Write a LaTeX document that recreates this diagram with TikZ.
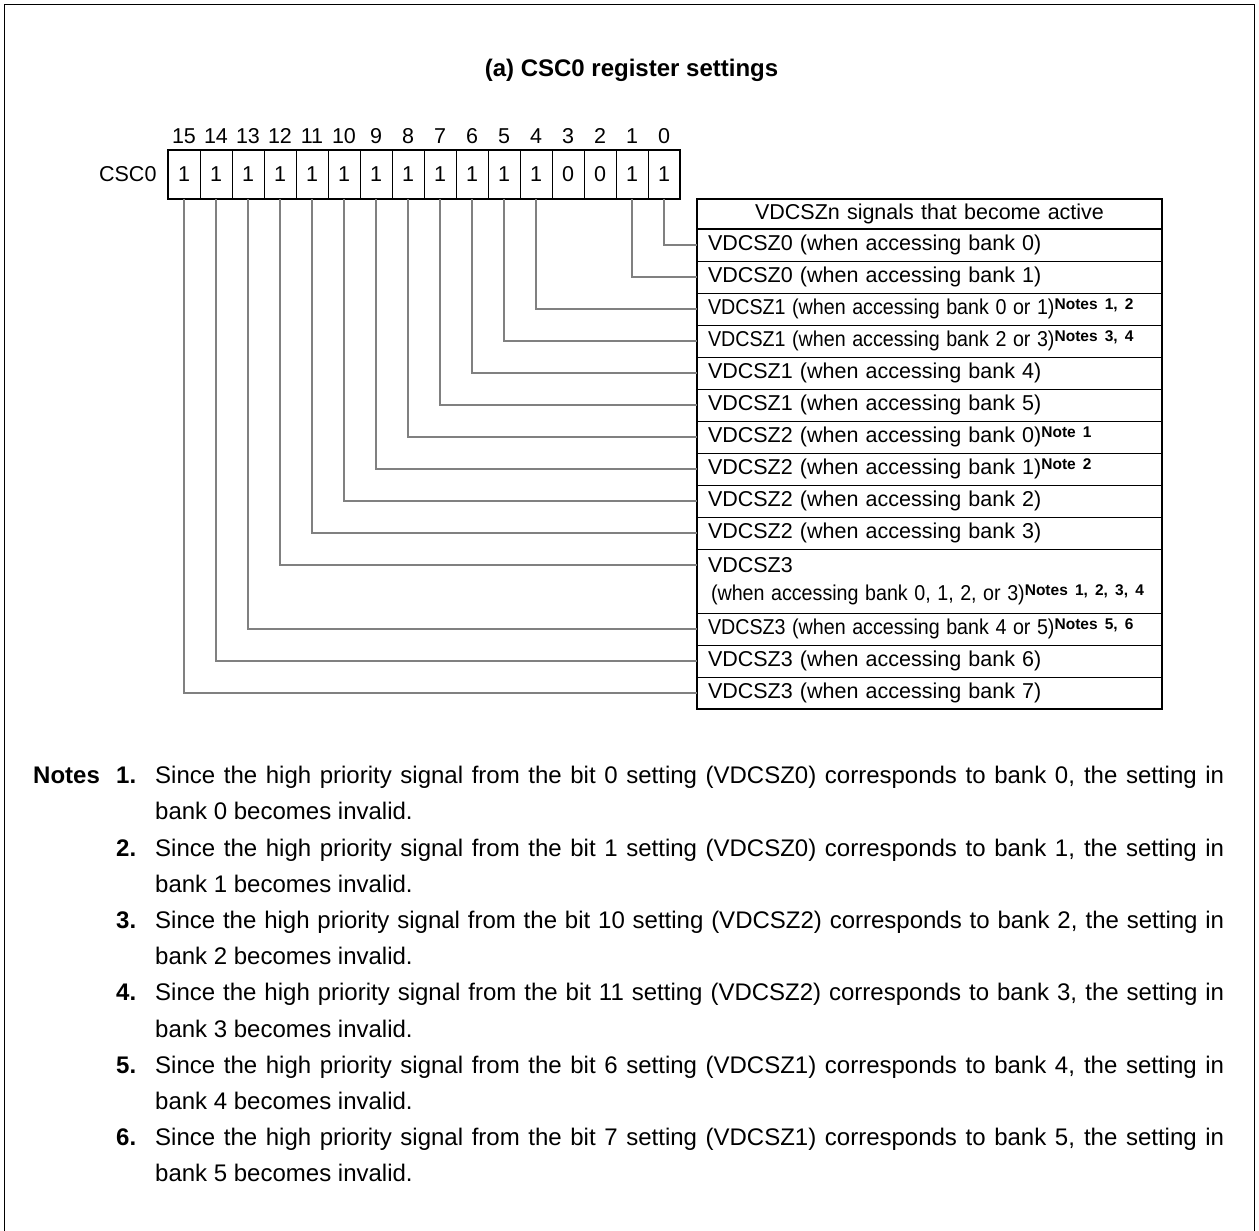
\documentclass[tikz,border=0pt]{standalone}
\usepackage{fontspec}
\usepackage{graphicx}
\setmainfont{Liberation Sans}
\usetikzlibrary{positioning,calc}
\newcommand{\notemark}[1]{\raisebox{5pt}{\fontsize{15.5}{15.5}\selectfont\bfseries #1}}
\newcommand{\squeeze}[1]{\scalebox{0.915}[1]{#1}}

\begin{document}
\begin{tikzpicture}[x=1pt,y=-1pt,font=\fontsize{21.5}{28}\selectfont,
  bit/.style={draw,line width=1pt,minimum width=32pt,minimum height=49pt,inner sep=0pt,outer sep=0pt},
  bitno/.style={inner sep=0pt},
  cell/.style={draw,line width=1pt,text width=443pt,inner xsep=11pt,inner ysep=0pt,outer sep=0pt,minimum height=32pt,align=left},
  row/.style={cell,text height=15.5pt,text depth=5pt},
  wire/.style={line width=1.5pt,black!50},
  note/.style={inner sep=0pt,anchor=base west,text width=1069pt,align=justify,font=\fontsize{24}{36.2}\selectfont},
  notenum/.style={inner sep=0pt,anchor=base west,font=\fontsize{24}{36.2}\selectfont\bfseries}]
\useasboundingbox (0,0) rectangle (1259,1231);
\draw[line width=1.2pt] (4.5,1240) -- (4.5,4.5) -- (1254.5,4.5) -- (1254.5,1240);
\node[inner sep=0pt,anchor=base,font=\fontsize{24}{28}\selectfont\bfseries] (title) at (631.5,76.6) {(a) CSC0 register settings};

% register
\node[bit] (b15) at (184,174.5) {1};
\node[bit,right=0pt of b15] (b14) {1}; \node[bit,right=0pt of b14] (b13) {1};
\node[bit,right=0pt of b13] (b12) {1}; \node[bit,right=0pt of b12] (b11) {1};
\node[bit,right=0pt of b11] (b10) {1}; \node[bit,right=0pt of b10] (b9) {1};
\node[bit,right=0pt of b9] (b8) {1};   \node[bit,right=0pt of b8] (b7) {1};
\node[bit,right=0pt of b7] (b6) {1};   \node[bit,right=0pt of b6] (b5) {1};
\node[bit,right=0pt of b5] (b4) {1};   \node[bit,right=0pt of b4] (b3) {0};
\node[bit,right=0pt of b3] (b2) {0};   \node[bit,right=0pt of b2] (b1) {1};
\node[bit,right=0pt of b1] (b0) {1};
\draw[line width=2pt] (b15.north west) rectangle (b0.south east);
\node[left=8pt of b15] (reg) {CSC0};
\node[bitno,above=7pt of b15,anchor=base] (l15) {15}; \node[bitno,above=7pt of b14,anchor=base] (l14) {14};
\node[bitno,above=7pt of b13,anchor=base] (l13) {13}; \node[bitno,above=7pt of b12,anchor=base] (l12) {12};
\node[bitno,above=7pt of b11,anchor=base] (l11) {11}; \node[bitno,above=7pt of b10,anchor=base] (l10) {10};
\node[bitno,above=7pt of b9,anchor=base] (l9) {9};    \node[bitno,above=7pt of b8,anchor=base] (l8) {8};
\node[bitno,above=7pt of b7,anchor=base] (l7) {7};    \node[bitno,above=7pt of b6,anchor=base] (l6) {6};
\node[bitno,above=7pt of b5,anchor=base] (l5) {5};    \node[bitno,above=7pt of b4,anchor=base] (l4) {4};
\node[bitno,above=7pt of b3,anchor=base] (l3) {3};    \node[bitno,above=7pt of b2,anchor=base] (l2) {2};
\node[bitno,above=7pt of b1,anchor=base] (l1) {1};    \node[bitno,above=7pt of b0,anchor=base] (l0) {0};

% signal table
\node[cell,anchor=north west,minimum height=30pt,align=center] (hdr) at (697,199) {VDCSZn signals that become active};
\node[row,below=0pt of hdr] (r1)  {VDCSZ0 (when accessing bank 0)};
\node[row,below=0pt of r1]  (r2)  {VDCSZ0 (when accessing bank 1)};
\node[row,below=0pt of r2]  (r3)  {\squeeze{VDCSZ1 (when accessing bank 0 or 1)}\notemark{Notes 1, 2}};
\node[row,below=0pt of r3]  (r4)  {\squeeze{VDCSZ1 (when accessing bank 2 or 3)}\notemark{Notes 3, 4}};
\node[row,below=0pt of r4]  (r5)  {VDCSZ1 (when accessing bank 4)};
\node[row,below=0pt of r5]  (r6)  {VDCSZ1 (when accessing bank 5)};
\node[row,below=0pt of r6]  (r7)  {VDCSZ2 (when accessing bank 0)\notemark{Note 1}};
\node[row,below=0pt of r7]  (r8)  {VDCSZ2 (when accessing bank 1)\notemark{Note 2}};
\node[row,below=0pt of r8]  (r9)  {VDCSZ2 (when accessing bank 2)};
\node[row,below=0pt of r9]  (r10) {VDCSZ2 (when accessing bank 3)};
\node[cell,below=0pt of r10,minimum height=64pt] (r11) {VDCSZ3\\\hspace*{3pt}\squeeze{(when accessing bank 0, 1, 2, or 3)}\notemark{Notes 1, 2, 3, 4}};
\node[row,below=0pt of r11] (r12) {\squeeze{VDCSZ3 (when accessing bank 4 or 5)}\notemark{Notes 5, 6}};
\node[row,below=0pt of r12] (r13) {VDCSZ3 (when accessing bank 6)};
\node[row,below=0pt of r13] (r14) {VDCSZ3 (when accessing bank 7)};
\draw[line width=2pt] (hdr.south west) -- (hdr.south east);
\draw[line width=2.5pt] (hdr.north west) rectangle (r14.south east);

\draw[wire] (b0.south)|-(r1.west);  \draw[wire] (b1.south)|-(r2.west);
\draw[wire] (b4.south)|-(r3.west);  \draw[wire] (b5.south)|-(r4.west);
\draw[wire] (b6.south)|-(r5.west);  \draw[wire] (b7.south)|-(r6.west);
\draw[wire] (b8.south)|-(r7.west);  \draw[wire] (b9.south)|-(r8.west);
\draw[wire] (b10.south)|-(r9.west); \draw[wire] (b11.south)|-(r10.west);
\draw[wire] (b12.south)|-([yshift=-16pt]r11.north west);
\draw[wire] (b13.south)|-(r12.west); \draw[wire] (b14.south)|-(r13.west);
\draw[wire] (b15.south)|-(r14.west);

% notes
\node[notenum] (notes) at (33,783.6) {Notes};
\node[notenum] (k1) at (116,783.6) {1.};
\node[note] (n1) at (155,783.6) {Since the high priority signal from the bit 0 setting (VDCSZ0) corresponds to bank 0, the setting in\linebreak bank 0 becomes invalid.};
\node[notenum] (k2) at (116,856) {2.};
\node[note] (n2) at (155,856) {Since the high priority signal from the bit 1 setting (VDCSZ0) corresponds to bank 1, the setting in\linebreak bank 1 becomes invalid.};
\node[notenum] (k3) at (116,928.4) {3.};
\node[note] (n3) at (155,928.4) {Since the high priority signal from the bit 10 setting (VDCSZ2) corresponds to bank 2, the setting in\linebreak bank 2 becomes invalid.};
\node[notenum] (k4) at (116,1000.8) {4.};
\node[note] (n4) at (155,1000.8) {Since the high priority signal from the bit 11 setting (VDCSZ2) corresponds to bank 3, the setting in\linebreak bank 3 becomes invalid.};
\node[notenum] (k5) at (116,1073.2) {5.};
\node[note] (n5) at (155,1073.2) {Since the high priority signal from the bit 6 setting (VDCSZ1) corresponds to bank 4, the setting in\linebreak bank 4 becomes invalid.};
\node[notenum] (k6) at (116,1145.6) {6.};
\node[note] (n6) at (155,1145.6) {Since the high priority signal from the bit 7 setting (VDCSZ1) corresponds to bank 5, the setting in\linebreak bank 5 becomes invalid.};
\end{tikzpicture}
\end{document}
